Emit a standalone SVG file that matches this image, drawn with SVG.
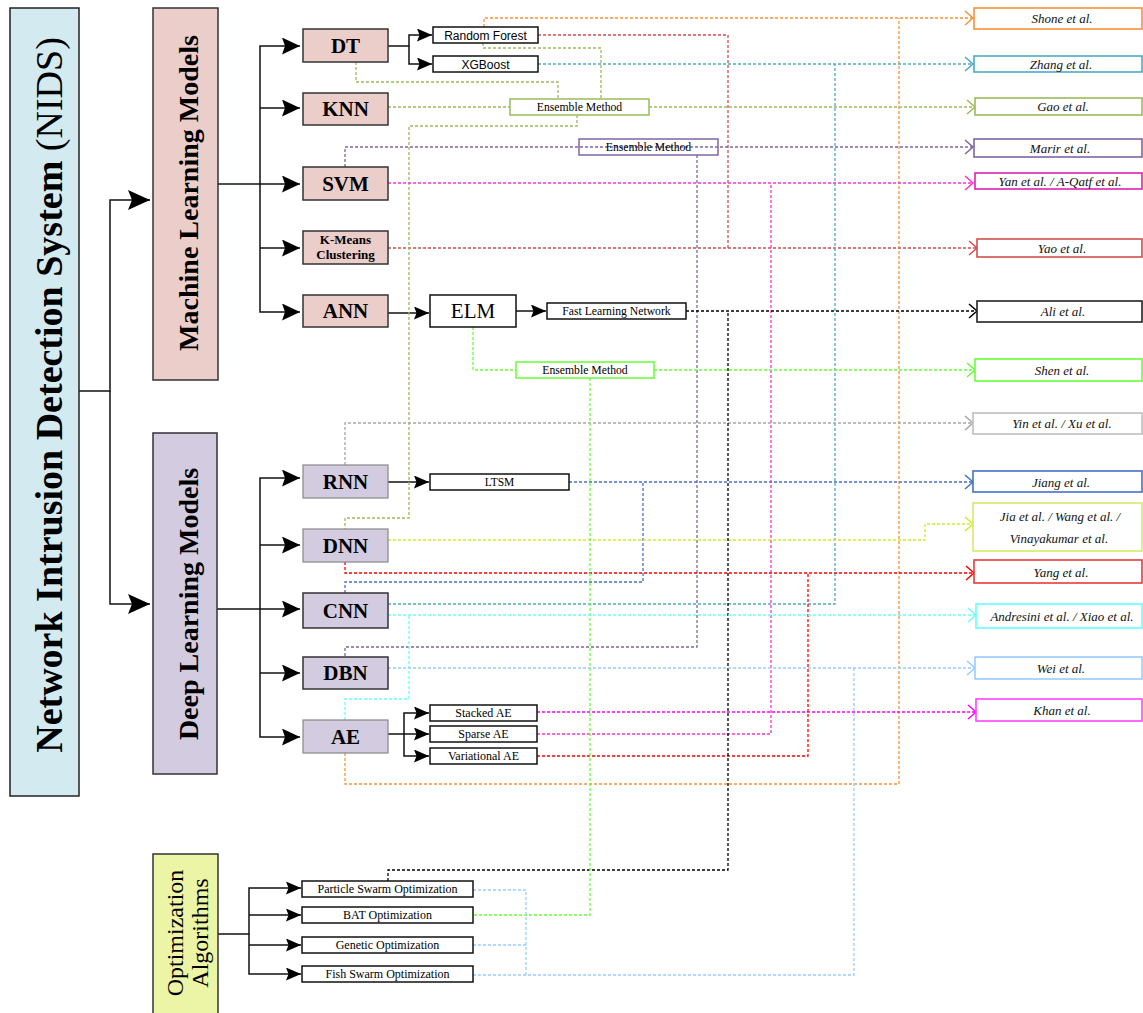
<svg xmlns="http://www.w3.org/2000/svg" width="1143" height="1013" viewBox="0 0 1143 1013">
<style>
.bg{fill:#ffffff}
.main{stroke:#222;stroke-width:1.5}
.lbl{font-family:"Liberation Serif",serif;fill:#000}
.b{font-weight:bold}
.sans{font-family:"Liberation Sans",Arial,sans-serif;fill:#000}
.box{fill:#fff;stroke:#111;stroke-width:1.5}
.ml{fill:#ebcdca;stroke:#333;stroke-width:1.5}
.dl{fill:#d3cbe0;stroke:#333;stroke-width:1.5}
.dl2{fill:#d3cbe0;stroke:#888;stroke-width:1.2}
.solid{fill:none;stroke:#111;stroke-width:1.5}
.d{fill:none;stroke-width:1.3;stroke-dasharray:3 2}
.ref{fill:#fff;stroke-width:1.6}
.rt{font-family:"Liberation Serif",serif;font-style:italic;font-size:13px;fill:#111;text-anchor:middle}
</style>
<defs>
<marker id="aBig" markerUnits="userSpaceOnUse" markerWidth="24" markerHeight="22" refX="22" refY="10" orient="auto"><path d="M0,0 L22,10 L0,20 L4,10 z" fill="#000"/></marker>
<marker id="aMid" markerUnits="userSpaceOnUse" markerWidth="20" markerHeight="18" refX="18" refY="8.5" orient="auto"><path d="M0,0 L18,8.5 L0,17 L3,8.5 z" fill="#000"/></marker>
<marker id="aSm" markerUnits="userSpaceOnUse" markerWidth="16" markerHeight="14" refX="15" refY="6.5" orient="auto"><path d="M0,0 L15,6.5 L0,13 L2.5,6.5 z" fill="#000"/></marker>
<marker id="cOr" markerUnits="userSpaceOnUse" markerWidth="10" markerHeight="16" refX="8" refY="7" orient="auto" overflow="visible"><path d="M0,0 L8,7 L0,14" fill="none" stroke="#f7923a" stroke-width="1.5"/></marker>
<marker id="cRd" markerUnits="userSpaceOnUse" markerWidth="10" markerHeight="16" refX="8" refY="7" orient="auto" overflow="visible"><path d="M0,0 L8,7 L0,14" fill="none" stroke="#d0504d" stroke-width="1.5"/></marker>
<marker id="cTe" markerUnits="userSpaceOnUse" markerWidth="10" markerHeight="16" refX="8" refY="7" orient="auto" overflow="visible"><path d="M0,0 L8,7 L0,14" fill="none" stroke="#4bacc6" stroke-width="1.5"/></marker>
<marker id="cOl" markerUnits="userSpaceOnUse" markerWidth="10" markerHeight="16" refX="8" refY="7" orient="auto" overflow="visible"><path d="M0,0 L8,7 L0,14" fill="none" stroke="#9bbb59" stroke-width="1.5"/></marker>
<marker id="cPu" markerUnits="userSpaceOnUse" markerWidth="10" markerHeight="16" refX="8" refY="7" orient="auto" overflow="visible"><path d="M0,0 L8,7 L0,14" fill="none" stroke="#8064a2" stroke-width="1.5"/></marker>
<marker id="cMg" markerUnits="userSpaceOnUse" markerWidth="10" markerHeight="16" refX="8" refY="7" orient="auto" overflow="visible"><path d="M0,0 L8,7 L0,14" fill="none" stroke="#ff33cc" stroke-width="1.5"/></marker>
<marker id="cBk" markerUnits="userSpaceOnUse" markerWidth="10" markerHeight="16" refX="8" refY="7" orient="auto" overflow="visible"><path d="M0,0 L8,7 L0,14" fill="none" stroke="#000" stroke-width="1.5"/></marker>
<marker id="cGr" markerUnits="userSpaceOnUse" markerWidth="10" markerHeight="16" refX="8" refY="7" orient="auto" overflow="visible"><path d="M0,0 L8,7 L0,14" fill="none" stroke="#66ff33" stroke-width="1.5"/></marker>
<marker id="cGy" markerUnits="userSpaceOnUse" markerWidth="10" markerHeight="16" refX="8" refY="7" orient="auto" overflow="visible"><path d="M0,0 L8,7 L0,14" fill="none" stroke="#a6a6a6" stroke-width="1.5"/></marker>
<marker id="cBl" markerUnits="userSpaceOnUse" markerWidth="10" markerHeight="16" refX="8" refY="7" orient="auto" overflow="visible"><path d="M0,0 L8,7 L0,14" fill="none" stroke="#4472c4" stroke-width="1.5"/></marker>
<marker id="cYg" markerUnits="userSpaceOnUse" markerWidth="10" markerHeight="16" refX="8" refY="7" orient="auto" overflow="visible"><path d="M0,0 L8,7 L0,14" fill="none" stroke="#ccee22" stroke-width="1.5"/></marker>
<marker id="cRe" markerUnits="userSpaceOnUse" markerWidth="10" markerHeight="16" refX="8" refY="7" orient="auto" overflow="visible"><path d="M0,0 L8,7 L0,14" fill="none" stroke="#ff0000" stroke-width="1.5"/></marker>
<marker id="cCy" markerUnits="userSpaceOnUse" markerWidth="10" markerHeight="16" refX="8" refY="7" orient="auto" overflow="visible"><path d="M0,0 L8,7 L0,14" fill="none" stroke="#66ffff" stroke-width="1.5"/></marker>
<marker id="cLb" markerUnits="userSpaceOnUse" markerWidth="10" markerHeight="16" refX="8" refY="7" orient="auto" overflow="visible"><path d="M0,0 L8,7 L0,14" fill="none" stroke="#99ccff" stroke-width="1.5"/></marker>
<marker id="cMk" markerUnits="userSpaceOnUse" markerWidth="10" markerHeight="16" refX="8" refY="7" orient="auto" overflow="visible"><path d="M0,0 L8,7 L0,14" fill="none" stroke="#ff00ff" stroke-width="1.5"/></marker>
</defs>
<rect class="bg" x="0" y="0" width="1143" height="1013"/>

<g id="connectors">
 <!-- solid tree connectors -->
 <path class="solid" d="M79,391 H110 V200 H150" marker-end="url(#aBig)"/>
 <path class="solid" d="M110,391 V604 H150" marker-end="url(#aBig)"/>
 <path class="solid" d="M218,184 H300" marker-end="url(#aMid)"/>
 <path class="solid" d="M260,184 V46 H300" marker-end="url(#aMid)"/>
 <path class="solid" d="M260,108 H300" marker-end="url(#aMid)"/>
 <path class="solid" d="M260,184 V312 H300" marker-end="url(#aMid)"/>
 <path class="solid" d="M260,248 H300" marker-end="url(#aMid)"/>
 <path class="solid" d="M217,609 H300" marker-end="url(#aMid)"/>
 <path class="solid" d="M260,609 V478 H300" marker-end="url(#aMid)"/>
 <path class="solid" d="M260,545 H300" marker-end="url(#aMid)"/>
 <path class="solid" d="M260,609 V737 H300" marker-end="url(#aMid)"/>
 <path class="solid" d="M260,673 H300" marker-end="url(#aMid)"/>
 <path class="solid" d="M218,934 H249 V888 H301" marker-end="url(#aSm)"/>
 <path class="solid" d="M249,915 H301" marker-end="url(#aSm)"/>
 <path class="solid" d="M249,934 V974 H301" marker-end="url(#aSm)"/>
 <path class="solid" d="M249,945 H301" marker-end="url(#aSm)"/>
 <path class="solid" d="M388,46 H409 V35 H432" marker-end="url(#aSm)"/>
 <path class="solid" d="M409,46 V64 H432" marker-end="url(#aSm)"/>
 <path class="solid" d="M388,313 H429" marker-end="url(#aSm)"/>
 <path class="solid" d="M516,311 H546" marker-end="url(#aSm)"/>
 <path class="solid" d="M388,482 H429" marker-end="url(#aSm)"/>
 <path class="solid" d="M388,734 H429" marker-end="url(#aSm)"/>
 <path class="solid" d="M404,734 V713 H429" marker-end="url(#aSm)"/>
 <path class="solid" d="M404,734 V756 H429" marker-end="url(#aSm)"/>

 <!-- dashed reference connectors -->
 <g stroke="#f7923a" class="d"><path class="d" d="M484,27 V18 H973" marker-end="url(#cOr)"/><path class="d" d="M345,753 V784 H899 V18"/></g>
 <g stroke="#d0504d"><path class="d" d="M538,35 H728 V248"/><path class="d" d="M388,248 H977" marker-end="url(#cRd)"/></g>
 <g stroke="#4bacc6"><path class="d" d="M538,64 H973" marker-end="url(#cTe)"/><path class="d" d="M388,604 H835 V64"/></g>
 <g stroke="#9bbb59"><path class="d" d="M356,62 V82 H558 V99"/><path class="d" d="M483,43 V48 H601 V99"/><path class="d" d="M388,107 H510"/><path class="d" d="M649,107 H975" marker-end="url(#cOl)"/><path class="d" d="M577,115 V126 H409 V518 H345 V529"/></g>
 <g stroke="#8064a2"><path class="d" d="M345,167 V147 H973" marker-end="url(#cPu)"/><path class="d" d="M697,155 V647 H345 V657"/></g>
 <g stroke="#ff33cc"><path class="d" d="M388,183 H973" marker-end="url(#cMg)"/><path class="d" d="M537,734 H771 V183"/></g>
 <g stroke="#ff00ff"><path class="d" d="M537,712 H976" marker-end="url(#cMk)"/></g>
 <g stroke="#ff0000"><path class="d" d="M345,562 V573 H974" marker-end="url(#cRe)"/><path class="d" d="M537,756 H808 V573"/></g>
 <g stroke="#4472c4"><path class="d" d="M569,482 H973" marker-end="url(#cBl)"/><path class="d" d="M345,593 V582 H643 V482"/></g>
 <g stroke="#ccee22"><path class="d" d="M388,540 H925 V524 H973" marker-end="url(#cYg)"/></g>
 <g stroke="#a6a6a6"><path class="d" d="M345,465 V423 H973" marker-end="url(#cGy)"/></g>
 <g stroke="#000"><path class="d" d="M686,311 H977" marker-end="url(#cBk)"/><path class="d" d="M388,881 V870 H728 V311"/></g>
 <g stroke="#66ff33"><path class="d" d="M473,327 V370 H516"/><path class="d" d="M654,370 H975" marker-end="url(#cGr)"/><path class="d" d="M590,378 V915 H473"/></g>
 <g stroke="#66ffff"><path class="d" d="M388,615 H976" marker-end="url(#cCy)"/><path class="d" d="M345,720 V699 H409 V615"/></g>
 <g stroke="#99ccff"><path class="d" d="M388,668 H975" marker-end="url(#cLb)"/><path class="d" d="M473,890 H526 V975"/><path class="d" d="M473,945 H526"/><path class="d" d="M473,975 H854 V668"/></g>
</g>

<g id="nids"><rect x="10" y="8" width="69" height="788" fill="#d2eaf0" stroke="#222" stroke-width="1.5"/>
 <text class="lbl b" font-size="38" text-anchor="middle" transform="translate(62,395) rotate(-90)">Network Intrusion Detection System <tspan font-weight="normal">(NIDS)</tspan></text></g>
<g id="ml-models"><rect x="153" y="8" width="65" height="372" fill="#ebcdca" stroke="#333" stroke-width="1.5"/>
 <text class="lbl b" font-size="28" text-anchor="middle" transform="translate(198,193) rotate(-90)">Machine Learning Models</text></g>
<g id="dl-models"><rect x="153" y="433" width="64" height="341" fill="#d3cbe0" stroke="#333" stroke-width="1.5"/>
 <text class="lbl b" font-size="28" text-anchor="middle" transform="translate(198,604) rotate(-90)">Deep Learning Models</text></g>
<g id="opt"><rect x="153" y="854" width="65" height="170" fill="#ebf5a5" stroke="#333" stroke-width="1.5"/>
 <text class="lbl" font-size="24" text-anchor="middle" transform="translate(183,933) rotate(-90)">Optimization</text>
 <text class="lbl" font-size="24" text-anchor="middle" transform="translate(208,933) rotate(-90)">Algorithms</text></g>

<g id="dt"><rect class="ml" x="303" y="29" width="85" height="33"/><text class="lbl b" font-size="21" x="345.5" y="53" text-anchor="middle">DT</text></g>
<g id="knn"><rect class="ml" x="303" y="93" width="85" height="32"/><text class="lbl b" font-size="21" x="345.5" y="116" text-anchor="middle">KNN</text></g>
<g id="svm"><rect class="ml" x="303" y="167" width="85" height="33"/><text class="lbl b" font-size="21" x="345.5" y="191" text-anchor="middle">SVM</text></g>
<g id="kmeans"><rect class="ml" x="303" y="231" width="85" height="33"/><text class="lbl b" font-size="13" x="345.5" y="244" text-anchor="middle">K-Means</text><text class="lbl b" font-size="13" x="345.5" y="259" text-anchor="middle">Clustering</text></g>
<g id="ann"><rect class="ml" x="303" y="295" width="85" height="32"/><text class="lbl b" font-size="21" x="345.5" y="318" text-anchor="middle">ANN</text></g>

<g id="rf"><rect class="box" x="433" y="27" width="105" height="16"/><text class="sans" font-size="12" x="485.5" y="39.5" text-anchor="middle">Random Forest</text></g>
<g id="xgb"><rect class="box" x="433" y="56" width="105" height="16"/><text class="sans" font-size="12" x="485.5" y="68.5" text-anchor="middle">XGBoost</text></g>
<g id="ens1"><rect x="510" y="99" width="139" height="16" fill="#fff" stroke="#9bbb59" stroke-width="1.5"/><text class="lbl" font-size="11.7" x="579.5" y="111" text-anchor="middle">Ensemble Method</text></g>
<g id="ens2"><rect x="579" y="139" width="139" height="16" fill="none" stroke="#8064a2" stroke-width="1.5"/><text class="lbl" font-size="11.7" x="648.5" y="151" text-anchor="middle">Ensemble Method</text></g>
<g id="elm"><rect class="box" x="430" y="295" width="86" height="32"/><text class="lbl" font-size="21" x="473" y="318" text-anchor="middle">ELM</text></g>
<g id="fln"><rect class="box" x="547" y="303" width="139" height="16"/><text class="lbl" font-size="11.7" x="616.5" y="315" text-anchor="middle">Fast Learning Network</text></g>
<g id="ens3"><rect x="516" y="362" width="138" height="16" fill="#fff" stroke="#66ff33" stroke-width="1.5"/><text class="lbl" font-size="11.7" x="585" y="374" text-anchor="middle">Ensemble Method</text></g>

<g id="rnn"><rect class="dl2" x="303" y="465" width="85" height="33"/><text class="lbl b" font-size="21" x="345.5" y="489" text-anchor="middle">RNN</text></g>
<g id="dnn"><rect class="dl2" x="303" y="529" width="85" height="33"/><text class="lbl b" font-size="21" x="345.5" y="553" text-anchor="middle">DNN</text></g>
<g id="cnn"><rect class="dl" x="303" y="593" width="85" height="35"/><text class="lbl b" font-size="21" x="345.5" y="618" text-anchor="middle">CNN</text></g>
<g id="dbn"><rect class="dl" x="303" y="657" width="85" height="32"/><text class="lbl b" font-size="21" x="345.5" y="680" text-anchor="middle">DBN</text></g>
<g id="ae"><rect class="dl2" x="303" y="720" width="85" height="33"/><text class="lbl b" font-size="21" x="345.5" y="744" text-anchor="middle">AE</text></g>

<g id="ltsm"><rect class="box" x="430" y="474" width="139" height="16"/><text class="lbl" font-size="11.5" x="499.5" y="486" text-anchor="middle">LTSM</text></g>
<g id="stacked"><rect class="box" x="430" y="705" width="107" height="16"/><text class="lbl" font-size="12" x="483.5" y="717" text-anchor="middle">Stacked AE</text></g>
<g id="sparse"><rect class="box" x="430" y="726" width="107" height="16"/><text class="lbl" font-size="12" x="483.5" y="738" text-anchor="middle">Sparse AE</text></g>
<g id="variational"><rect class="box" x="430" y="748" width="107" height="16"/><text class="lbl" font-size="12" x="483.5" y="760" text-anchor="middle">Variational AE</text></g>

<g id="pso"><rect class="box" x="302" y="881" width="171" height="16"/><text class="lbl" font-size="12" x="387.5" y="893" text-anchor="middle">Particle Swarm Optimization</text></g>
<g id="bat"><rect class="box" x="302" y="907" width="171" height="16"/><text class="lbl" font-size="12" x="387.5" y="919" text-anchor="middle">BAT Optimization</text></g>
<g id="genetic"><rect class="box" x="302" y="937" width="171" height="16"/><text class="lbl" font-size="12" x="387.5" y="949" text-anchor="middle">Genetic Optimization</text></g>
<g id="fish"><rect class="box" x="302" y="966" width="171" height="16"/><text class="lbl" font-size="12" x="387.5" y="978" text-anchor="middle">Fish Swarm Optimization</text></g>

<g id="shone"><rect class="ref" stroke="#f7923a" x="974" y="8" width="168" height="21"/><text class="rt" x="1062" y="23">Shone et al.</text></g>
<g id="zhang"><rect class="ref" stroke="#4bacc6" x="974" y="56" width="168" height="16"/><text class="rt" x="1061" y="68.5">Zhang et al.</text></g>
<g id="gao"><rect class="ref" stroke="#9bbb59" x="975" y="98" width="167" height="17"/><text class="rt" x="1063" y="111">Gao et al.</text></g>
<g id="marir"><rect class="ref" stroke="#8064a2" x="974" y="139" width="168" height="18"/><text class="rt" x="1060" y="152.5">Marir et al.</text></g>
<g id="yan"><rect class="ref" stroke="#e020b0" x="975" y="173" width="167" height="16"/><text class="rt" x="1060" y="186">Yan et al. /  A-Qatf et al.</text></g>
<g id="yao"><rect class="ref" stroke="#d0504d" x="977" y="239" width="165" height="18"/><text class="rt" x="1062" y="252.5">Yao et al.</text></g>
<g id="ali"><rect class="ref" stroke="#222" x="977" y="301" width="165" height="21"/><text class="rt" x="1063" y="316">Ali et al.</text></g>
<g id="shen"><rect class="ref" stroke="#66ff33" x="975" y="359" width="167" height="22"/><text class="rt" x="1062" y="375">Shen et al.</text></g>
<g id="yin"><rect class="ref" stroke="#bfbfbf" x="973" y="413" width="169" height="21"/><text class="rt" x="1062" y="428">Yin et al. /  Xu et al.</text></g>
<g id="jiang"><rect class="ref" stroke="#4472c4" x="973" y="471" width="169" height="21"/><text class="rt" x="1061" y="487">Jiang et al.</text></g>
<g id="jia"><rect class="ref" stroke="#d4ec6a" x="973" y="503" width="169" height="48"/><text class="rt" x="1060" y="521">Jia et al.  /  Wang et al. /</text><text class="rt" x="1059" y="543">Vinayakumar et al.</text></g>
<g id="yang"><rect class="ref" stroke="#e83a3a" x="974" y="560" width="168" height="23"/><text class="rt" x="1061" y="577">Yang et al.</text></g>
<g id="andresini"><rect class="ref" stroke="#66ffff" x="976" y="604" width="166" height="24"/><text class="rt" font-size="11.5" x="1062" y="621">Andresini et al.  /  Xiao et al.</text></g>
<g id="wei"><rect class="ref" stroke="#99ccff" x="975" y="657" width="167" height="22"/><text class="rt" x="1061" y="673">Wei et al.</text></g>
<g id="khan"><rect class="ref" stroke="#ff44ff" x="976" y="699" width="166" height="22"/><text class="rt" x="1062" y="715">Khan et al.</text></g>
</svg>
